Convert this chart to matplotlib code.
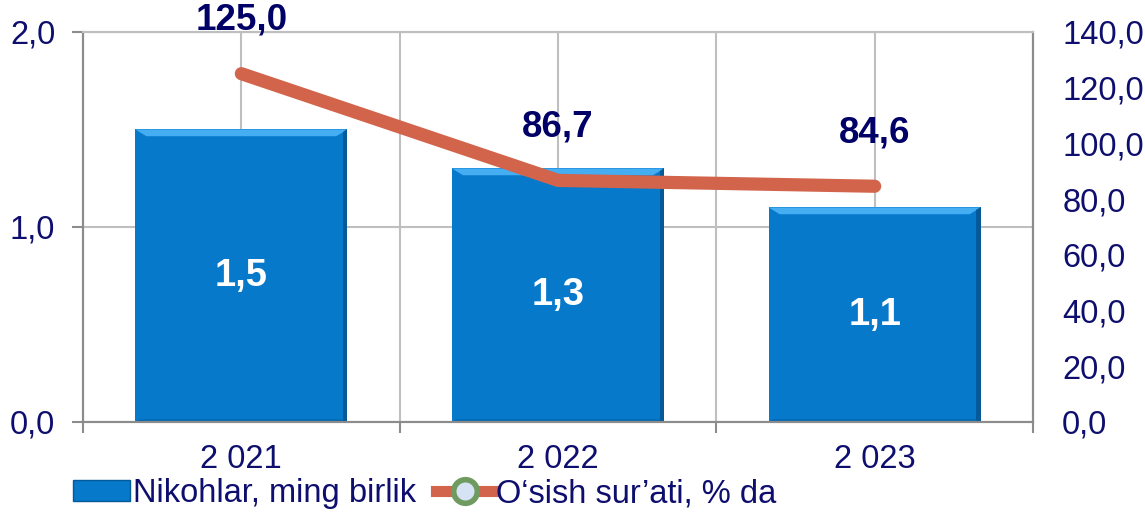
import matplotlib

matplotlib.use("Agg")
import matplotlib.pyplot as plt
from matplotlib.lines import Line2D
from matplotlib.patches import Patch, Polygon
from matplotlib.ticker import FixedLocator, FuncFormatter

years = ["2 021", "2 022", "2 023"]
marriages = [1.5, 1.3, 1.1]          # Nikohlar, ming birlik
growth = [125.0, 86.7, 84.6]         # O'sish sur'ati, % da

NAVY = "#0E0E6E"
BAR = "#0679CB"
BAR_LIGHT = "#45ADF2"
BAR_DARK = "#045A98"
LINE = "#D2644B"
GRID = "#BFBFBF"
SPINE = "#8C8C8C"

plt.rcParams["font.family"] = ["Liberation Sans", "DejaVu Sans"]


def comma(v, _pos=None):
    return f"{v:.1f}".replace(".", ",")


fig = plt.figure(figsize=(11.45, 5.14), dpi=100)
ax = fig.add_axes([0.0725, 0.179, 0.8297, 0.759])
ax2 = ax.twinx()

x = list(range(len(years)))
bars = ax.bar(x, marriages, width=0.67, color=BAR, zorder=2)

# bevel on each bar, derived from its own geometry
bx, by = 0.035, 0.035
for b in bars:
    x0, x1 = b.get_x(), b.get_x() + b.get_width()
    y1 = b.get_height()
    ax.add_patch(Polygon([(x0, y1), (x1, y1), (x1 - bx, y1 - by), (x0 + bx, y1 - by)],
                         closed=True, color=BAR_LIGHT, zorder=3, lw=0))
    ax.add_patch(Polygon([(x1, y1), (x1, 0), (x1 - bx * 0.4, 0), (x1 - bx * 0.4, y1 - by * 0.4)],
                         closed=True, color=BAR_DARK, zorder=3, lw=0))
    ax.add_patch(Polygon([(x0, 0), (x1, 0), (x1 - bx * 0.4, by * 0.4), (x0 + bx * 0.4, by * 0.4)],
                         closed=True, color=BAR_DARK, zorder=3, lw=0, alpha=0.5))
    ax.text(b.get_x() + b.get_width() / 2, y1 / 2, comma(y1), ha="center", va="center",
            color="white", fontsize=27.5, fontweight="bold", zorder=4)

ax.set_xlim(-0.5, len(years) - 0.5)
ax.set_ylim(0, 2.0)
ax.set_yticks([0.0, 1.0, 2.0])
ax.yaxis.set_major_formatter(FuncFormatter(comma))
ax.set_xticks(x)
ax.set_xticklabels(years)
ax.xaxis.set_minor_locator(FixedLocator([i - 0.5 for i in range(len(years) + 1)]))
ax.grid(True, which="both", axis="x", color=GRID, lw=1.5, zorder=0)
ax.grid(True, which="major", axis="y", color=GRID, lw=1.5, zorder=0)
ax.set_axisbelow(True)
ax.tick_params(axis="x", which="major", direction="in", length=7, color=SPINE, width=1.5,
               labelsize=23.5, labelcolor=NAVY, pad=16)
ax.tick_params(axis="x", which="minor", direction="out", length=8, color=SPINE, width=1.5)
ax.tick_params(axis="y", direction="out", length=8, color=SPINE, width=1.5,
               labelsize=23.5, labelcolor=NAVY, pad=12)

ax2.set_ylim(0, 140)
ax2.set_yticks(range(0, 141, 20))
ax2.yaxis.set_major_formatter(FuncFormatter(comma))
ax2.tick_params(axis="y", length=0, labelsize=23.5, labelcolor=NAVY, pad=21)
ax2.plot(x, growth, color=LINE, lw=9.5, solid_capstyle="round", solid_joinstyle="miter", zorder=5)
for xi, v in zip(x, growth):
    ax2.annotate(comma(v), (xi, v), xytext=(0, 26), textcoords="offset points",
                 ha="center", va="bottom", color="#000066", fontsize=26.5, fontweight="bold")

for a in (ax, ax2):
    for s in a.spines.values():
        s.set_color(SPINE)
        s.set_linewidth(1.5)
ax2.spines["top"].set_color(GRID)
ax.spines["top"].set_color(GRID)

handles = [
    Patch(facecolor=BAR, edgecolor=BAR_DARK, label="Nikohlar, ming birlik"),
    Line2D([0], [0], color=LINE, lw=8, marker="o", markersize=17, markerfacecolor="#D5E3F5",
           markeredgecolor="#6F9A60", markeredgewidth=4, label="O\u2018sish sur\u2019ati, % da"),
]
fig.legend(handles=handles, loc="lower left", bbox_to_anchor=(0.038, -0.048), ncol=2,
           frameon=False, fontsize=23.5, labelcolor=NAVY, handlelength=1.75, handleheight=0.6,
           handletextpad=0.1, columnspacing=0.6)

fig.savefig("out.png", dpi=100)
